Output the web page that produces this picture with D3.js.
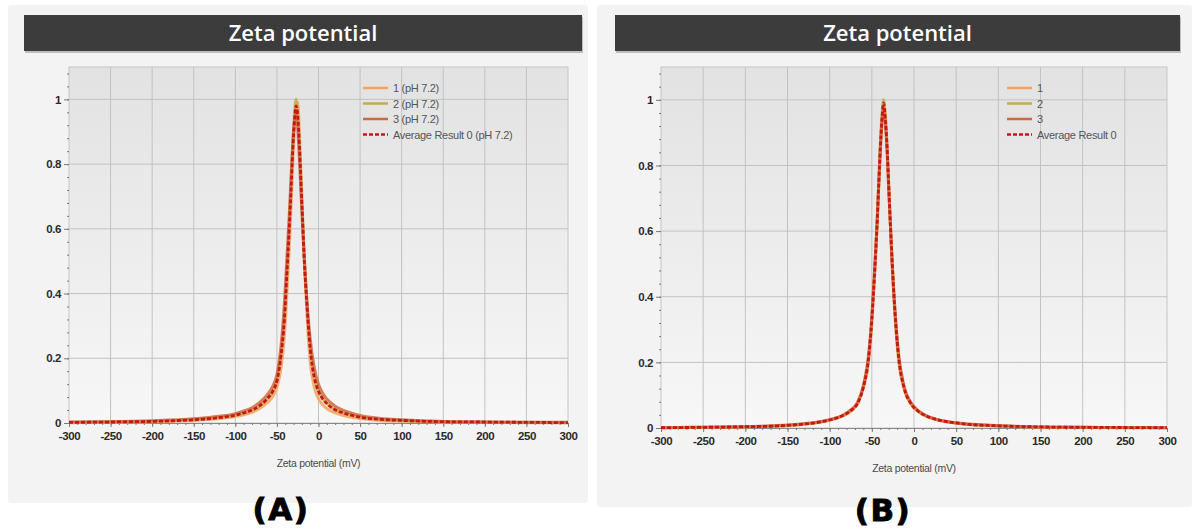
<!DOCTYPE html>
<html>
<head>
<meta charset="utf-8">
<script src="https://cdn.jsdelivr.net/npm/d3@7"></script>
<style>
    body { margin: 0; background: #ffffff; }
    svg { display: block; }
</style>
</head>
<body>
<div id="viz"></div>
<script>
// tick values and labels
var xTicks = [-300, -250, -200, -150, -100, -50, 0, 50, 100, 150, 200, 250, 300];
var yTicks = [0, 0.2, 0.4, 0.6, 0.8, 1];
var yTickLabels = ["0", "0.2", "0.4", "0.6", "0.8", "1"];

var chartTitle = "Zeta potential";
var axisTitle = "Zeta potential (mV)";
var legendA = ["1 (pH 7.2)", "2 (pH 7.2)", "3 (pH 7.2)", "Average Result 0 (pH 7.2)"];
var legendB = ["1", "2", "3", "Average Result 0"];

// panel A, pH 7.2 runs (mV / relative intensity)
var potentialA = [-300, -250, -200, -150, -125, -100, -90, -80, -70, -62, -55, -50, -45, -41, -38, -35, -33, -31, -29, -27,
    -25, -23, -21, -19, -17, -14, -10, -5, 0, 5, 10, 20, 30, 40, 50, 75, 100, 150, 200, 250, 300];
var run1A = [0.001, 0.002, 0.004, 0.008, 0.012, 0.020, 0.025, 0.033, 0.046, 0.062, 0.082, 0.11, 0.17, 0.27, 0.40, 0.55, 0.67, 0.80, 0.91, 0.97,
    0.99, 0.90, 0.77, 0.63, 0.50, 0.34, 0.19, 0.11, 0.075, 0.056, 0.045, 0.031, 0.023, 0.018, 0.014, 0.008, 0.006, 0.003, 0.002, 0.001, 0.001];
var run2A = [0.002, 0.003, 0.005, 0.010, 0.015, 0.024, 0.030, 0.039, 0.055, 0.074, 0.098, 0.13, 0.21, 0.33, 0.465, 0.62, 0.74, 0.86, 0.95, 1.0,
    0.95, 0.86, 0.74, 0.62, 0.51, 0.375, 0.235, 0.145, 0.10, 0.076, 0.060, 0.041, 0.030, 0.023, 0.018, 0.011, 0.007, 0.004, 0.003, 0.002, 0.001];
var run3A = [0.003, 0.004, 0.007, 0.013, 0.019, 0.029, 0.037, 0.047, 0.065, 0.086, 0.114, 0.15, 0.24, 0.37, 0.51, 0.65, 0.76, 0.86, 0.93, 0.96,
    0.91, 0.82, 0.71, 0.60, 0.50, 0.38, 0.26, 0.17, 0.12, 0.092, 0.074, 0.052, 0.039, 0.030, 0.023, 0.014, 0.010, 0.005, 0.003, 0.002, 0.002];
var averageA = [0.002, 0.003, 0.005, 0.010, 0.015, 0.024, 0.031, 0.040, 0.055, 0.074, 0.098, 0.13, 0.21, 0.32, 0.46, 0.61, 0.72, 0.84, 0.93, 0.98,
    0.95, 0.86, 0.74, 0.62, 0.50, 0.37, 0.23, 0.14, 0.098, 0.075, 0.060, 0.041, 0.031, 0.024, 0.018, 0.011, 0.008, 0.004, 0.003, 0.002, 0.001];

// panel B runs
var potentialB = [-300, -250, -200, -165, -135, -110, -95, -85, -75, -67, -60, -54, -50, -47, -44, -42, -40, -38, -36,
    -34, -32, -30, -28, -26, -22, -18, -12, -3, 5, 15, 25, 40, 65, 95, 135, 200, 250, 300];
var run1B = [0.001, 0.002, 0.004, 0.006, 0.010, 0.018, 0.027, 0.036, 0.051, 0.073, 0.122, 0.20, 0.32, 0.45, 0.60, 0.73, 0.85, 0.94, 0.99,
    0.95, 0.86, 0.74, 0.62, 0.50, 0.32, 0.20, 0.12, 0.070, 0.050, 0.035, 0.026, 0.018, 0.011, 0.007, 0.004, 0.002, 0.001, 0.001];
var run2B = [0.001, 0.002, 0.004, 0.006, 0.011, 0.019, 0.028, 0.037, 0.053, 0.075, 0.125, 0.21, 0.33, 0.465, 0.62, 0.74, 0.86, 0.95, 1.0,
    0.95, 0.86, 0.74, 0.62, 0.51, 0.33, 0.21, 0.125, 0.072, 0.051, 0.036, 0.027, 0.019, 0.011, 0.007, 0.004, 0.002, 0.0015, 0.001];
var run3B = [0.001, 0.002, 0.004, 0.007, 0.012, 0.020, 0.029, 0.038, 0.055, 0.078, 0.13, 0.22, 0.34, 0.47, 0.61, 0.73, 0.84, 0.93, 0.97,
    0.93, 0.85, 0.73, 0.62, 0.51, 0.34, 0.22, 0.13, 0.075, 0.053, 0.037, 0.028, 0.019, 0.012, 0.008, 0.004, 0.002, 0.0015, 0.001];
var averageB = [0.001, 0.002, 0.004, 0.006, 0.011, 0.019, 0.028, 0.037, 0.053, 0.075, 0.125, 0.21, 0.33, 0.46, 0.61, 0.73, 0.85, 0.94, 0.99,
    0.94, 0.86, 0.74, 0.62, 0.51, 0.33, 0.21, 0.125, 0.072, 0.051, 0.036, 0.027, 0.019, 0.011, 0.007, 0.004, 0.002, 0.0015, 0.001];

var runColors = ["#f4a35c", "#bfae4c", "#cd6a3c"];
var avgColor = "#c8141a";

var width = 1194;
var height = 531;

var svg = d3.select("#viz").append("svg").attr("width", width).attr("height", height);
var defs = svg.append("defs");

var grad = defs.append("linearGradient").attr("id", "plotBg")
    .attr("x1", 0).attr("y1", 0).attr("x2", 0).attr("y2", 1);
grad.append("stop").attr("offset", "0%").attr("stop-color", "#e2e2e2");
grad.append("stop").attr("offset", "100%").attr("stop-color", "#f7f7f7");

function drawPanel(p) {
    var g = svg.append("g");

    // panel background
    g.append("rect")
        .attr("x", p.panel[0]).attr("y", p.panel[1])
        .attr("width", p.panel[2]).attr("height", p.panel[3])
        .attr("rx", 3)
        .style("fill", "#f3f3f3");

    // title bar
    g.append("rect")
        .attr("x", p.bar[0] + 1).attr("y", p.bar[1] + 2)
        .attr("width", p.bar[2]).attr("height", p.bar[3])
        .style("fill", "#9a9a9a").style("opacity", 0.6);
    g.append("rect")
        .attr("x", p.bar[0]).attr("y", p.bar[1])
        .attr("width", p.bar[2]).attr("height", p.bar[3])
        .style("fill", "#3c3c3c");
    g.append("text")
        .attr("x", p.bar[0] + p.bar[2] / 2)
        .attr("y", p.bar[1] + 26)
        .attr("text-anchor", "middle")
        .attr("font-family", "Open Sans")
        .attr("font-weight", 600)
        .attr("font-size", "22px")
        .style("fill", "#ffffff")
        .text(chartTitle);

    var x = d3.scaleLinear().domain([-300, 300]).range([p.left, p.right]);
    var y = d3.scaleLinear().domain([0, 1.1]).range([p.zero, p.top]);

    // plot area
    g.append("rect")
        .attr("x", p.left).attr("y", p.top)
        .attr("width", p.right - p.left).attr("height", p.zero - p.top)
        .style("fill", "url(#plotBg)")
        .attr("stroke", "#c6c6c6");

    // grid
    g.append("g").selectAll("line")
        .data(xTicks.slice(1, -1))
        .enter().append("line")
        .attr("x1", function (d) { return x(d) }).attr("x2", function (d) { return x(d) })
        .attr("y1", p.top).attr("y2", p.zero)
        .attr("stroke", "#c2c2c2");
    g.append("g").selectAll("line")
        .data(yTicks.slice(1))
        .enter().append("line")
        .attr("x1", p.left).attr("x2", p.right)
        .attr("y1", function (d) { return y(d) }).attr("y2", function (d) { return y(d) })
        .attr("stroke", "#c2c2c2");

    // axes
    var minorY = d3.range(0, 1.1, 0.04);
    var minorX = d3.range(-300, 301, 10);

    var ya = g.append("g").attr("transform", "translate(" + p.left + ",0)")
        .call(d3.axisLeft(y).tickValues(yTicks).tickSize(5).tickPadding(3)
            .tickFormat(function (d, i) { return yTickLabels[i] }));
    g.append("g").attr("transform", "translate(" + p.left + ",0)")
        .call(d3.axisLeft(y).tickValues(minorY).tickSize(2).tickFormat(""))
        .select(".domain").remove();
    var xa = g.append("g").attr("transform", "translate(0," + p.zero + ")")
        .call(d3.axisBottom(x).tickValues(xTicks).tickSize(4).tickPadding(5)
            .tickFormat(function (d) { return String(d) }));
    g.append("g").attr("transform", "translate(0," + p.zero + ")")
        .call(d3.axisBottom(x).tickValues(minorX).tickSize(2).tickFormat(""))
        .select(".domain").remove();

    ya.select(".domain").remove();
    xa.select(".domain").attr("stroke", "#8a8a8a");
    g.selectAll(".tick line").attr("stroke", "#7a7a7a");
    [ya, xa].forEach(function (a) {
        a.selectAll("text")
            .attr("font-family", "Liberation Sans")
            .attr("font-weight", "bold")
            .attr("font-size", "11.5px")
            .attr("letter-spacing", "-0.4px")
            .style("fill", "#2a2a2a");
    });

    g.append("text")
        .attr("x", x(0)).attr("y", p.zero + 44)
        .attr("text-anchor", "middle")
        .attr("font-family", "Liberation Sans")
        .attr("font-size", "10.5px")
        .attr("letter-spacing", "-0.3px")
        .style("fill", "#4a4a4a")
        .text(axisTitle);

    // curves
    var line = d3.line()
        .x(function (d) { return x(d[0]) })
        .y(function (d) { return y(d[1]) })
        .curve(d3.curveMonotoneX);

    p.runs.forEach(function (vals, i) {
        g.append("path")
            .datum(p.potential.map(function (v, k) { return [v, vals[k]] }))
            .attr("d", line)
            .attr("fill", "none")
            .attr("stroke", runColors[i])
            .attr("stroke-width", 3)
            .attr("stroke-opacity", 0.85);
    });
    g.append("path")
        .datum(p.potential.map(function (v, k) { return [v, p.average[k]] }))
        .attr("d", line)
        .attr("fill", "none")
        .attr("stroke", avgColor)
        .attr("stroke-width", 2.8)
        .attr("stroke-dasharray", "4,2");

    // legend
    var lg = g.append("g");
    p.legend.forEach(function (label, i) {
        var ly = 88 + i * 15.5;
        lg.append("line")
            .attr("x1", p.legendX).attr("x2", p.legendX + 25)
            .attr("y1", ly).attr("y2", ly)
            .attr("stroke", i < 3 ? runColors[i] : avgColor)
            .attr("stroke-width", 2.5)
            .attr("stroke-dasharray", i < 3 ? null : "4,2");
        lg.append("text")
            .attr("x", p.legendX + 30).attr("y", ly + 4)
            .attr("font-family", "Liberation Sans")
            .attr("font-size", "11px")
            .attr("letter-spacing", "-0.3px")
            .style("fill", "#555555")
            .text(label);
    });

    svg.append("text")
        .attr("x", p.tag[0]).attr("y", p.tag[1])
        .attr("text-anchor", "middle")
        .attr("font-family", "DejaVu Sans")
        .attr("font-weight", "bold")
        .attr("font-size", "31px")
        .attr("letter-spacing", "1.5px")
        .style("fill", "#000")
        .style("stroke", "#000").style("stroke-width", 0.9)
        .text(p.tagText);
}

drawPanel({
    panel: [8, 5, 580, 498], bar: [24, 15, 558, 36],
    left: 69, right: 568, top: 67, zero: 423,
    potential: potentialA, runs: [run1A, run2A, run3A], average: averageA,
    legend: legendA, legendX: 363,
    tag: [281, 520], tagText: "(A)"
});
drawPanel({
    panel: [597, 5, 595, 502], bar: [615, 15, 565, 36],
    left: 661, right: 1167, top: 67, zero: 428,
    potential: potentialB, runs: [run1B, run2B, run3B], average: averageB,
    legend: legendB, legendX: 1007,
    tag: [883, 521], tagText: "(B)"
});
</script>
</body>
</html>
